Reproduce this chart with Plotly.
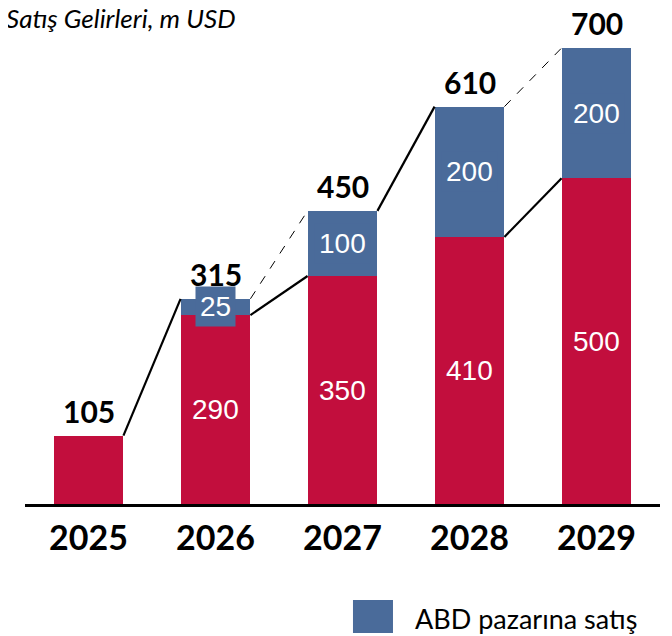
import plotly.graph_objects as go

years = ["2025", "2026", "2027", "2028", "2029"]
domestic = [105, 290, 350, 410, 500]
usa = [0, 25, 100, 200, 200]
totals = [105, 315, 450, 610, 700]
title_text = "Satış Gelirleri, m USD"
legend_text = "ABD pazarına satış"

RED = "#C20E3D"
BLUE = "#4A6B9A"
BW = 0.55
xs = list(range(len(years)))

fig = go.Figure()
fig.add_bar(x=xs, y=domestic, marker=dict(color=RED, line_width=0), width=BW,
            showlegend=False, hoverinfo="skip")
fig.add_bar(x=xs, y=usa, marker=dict(color=BLUE, line_width=0), width=BW,
            showlegend=False, hoverinfo="skip")

# connector lines: (from index, to index, series, dashed)
connectors = [
    (0, 1, totals, False),
    (1, 2, totals, True),
    (1, 2, domestic, False),
    (2, 3, totals, False),
    (3, 4, totals, True),
    (3, 4, domestic, False),
]
h = BW / 2
for a, b, series, dashed in connectors:
    fig.add_trace(go.Scatter(
        x=[xs[a] + h, xs[b] - h], y=[series[a], series[b]], mode="lines",
        line=dict(color="black", width=1 if dashed else 2.2,
                  dash="dash" if dashed else "solid"),
        showlegend=False, hoverinfo="skip"))

ann = []
for i in xs:
    ann.append(dict(x=i, y=totals[i], text=f"<b>{totals[i]}</b>", showarrow=False,
                    yanchor="bottom", yshift=5,
                    font=dict(family="Lato", size=30, color="black")))
    if i > 0:
        ann.append(dict(x=i, y=domestic[i] / 2, text=str(domestic[i]), showarrow=False,
                        font=dict(family="Liberation Sans", size=28, color="white")))
    if usa[i] > 0:
        ann.append(dict(x=i, y=domestic[i] + usa[i] / 2, text=str(usa[i]), showarrow=False,
                        bgcolor=BLUE, borderpad=4,
                        font=dict(family="Liberation Sans", size=28, color="white")))

ann.append(dict(x=-0.033, y=1.066, xref="paper", yref="paper", text=f"<i>{title_text}</i>",
                showarrow=False, xanchor="left", yanchor="middle",
                font=dict(family="Lato", size=26, color="black")))
ann.append(dict(x=0.611, y=-0.25, xref="paper", yref="paper", text=legend_text,
                showarrow=False, xanchor="left", yanchor="middle",
                font=dict(family="Lato", size=27, color="black")))

fig.update_layout(
    width=672, height=636,
    margin=dict(l=17, r=20, t=40, b=140),
    barmode="stack",
    plot_bgcolor="white", paper_bgcolor="white",
    annotations=ann,
    shapes=[dict(type="rect", xref="paper", yref="paper",
                 x0=0.5165, x1=0.5795, y0=-0.283, y1=-0.2105,
                 fillcolor=BLUE, line_width=0)],
    xaxis=dict(range=[-0.5, 4.5], tickvals=xs, ticktext=[f"<b>{y}</b>" for y in years],
               tickfont=dict(family="Lato", size=34, color="black"),
               showline=True, linecolor="black", linewidth=2.5, ticks="",
               ticklabelstandoff=2, showgrid=False, zeroline=False, fixedrange=True),
    yaxis=dict(range=[0, 700], visible=False, showgrid=False, zeroline=False),
)

fig.write_html("out.html")
